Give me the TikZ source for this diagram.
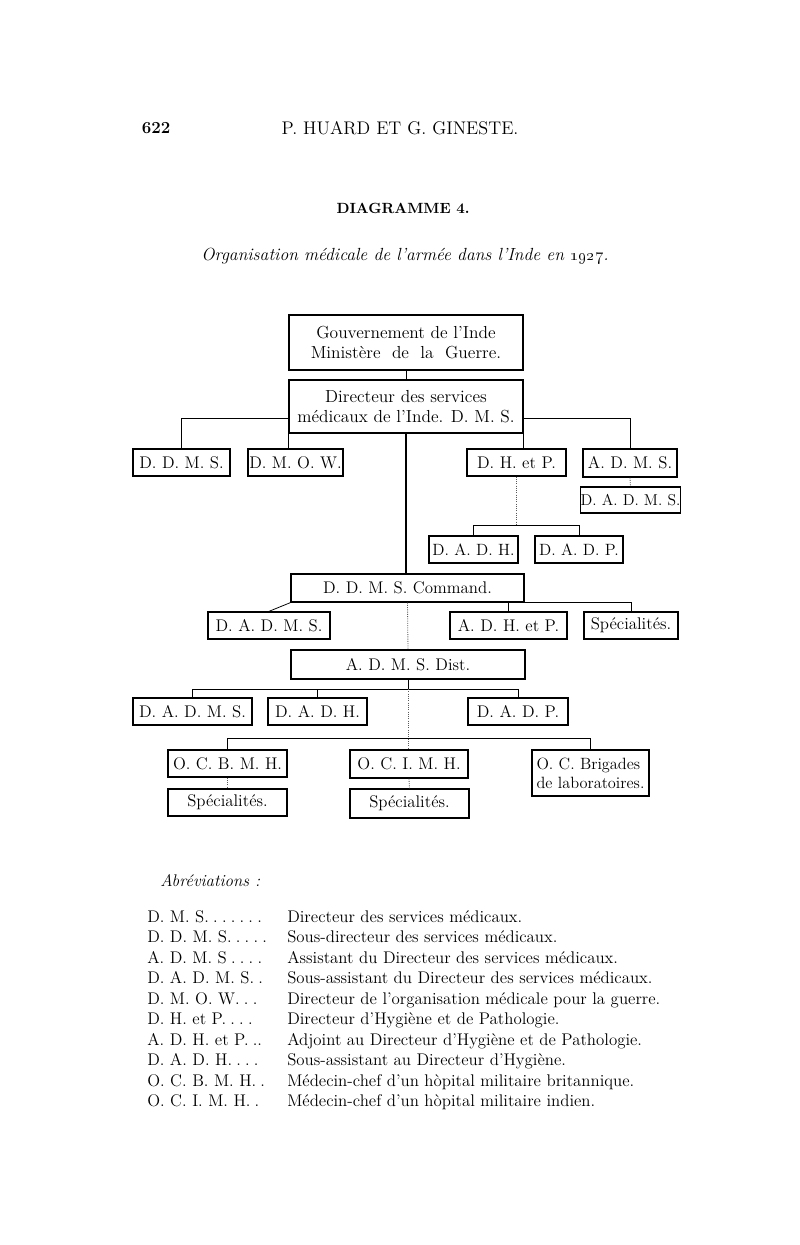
\documentclass[tikz,border=0pt]{standalone}
\usepackage{tikz}
\usetikzlibrary{calc}
\tikzset{
  orgbox/.style={draw=black, fill=white, line width=0.95pt, inner sep=0pt,
                 align=center, font=\fontsize{12}{14}\selectfont},
  link/.style={draw=black, line width=0.55pt},
  mainlink/.style={draw=black, line width=1.0pt},
  faintlink/.style={draw=black!65, densely dotted, line width=0.6pt},
  headline/.style={font=\fontsize{13}{15}\selectfont, inner sep=0pt},
  abbrevkey/.style={anchor=base west, inner sep=0pt,
                    font=\fontsize{12}{14}\selectfont},
  abbrevtext/.style={anchor=base west, inner sep=0pt,
                     font=\fontsize{12}{14}\selectfont}
}
\newcommand{\dotgap}{\hspace{0.25em}}
\begin{document}
\begin{tikzpicture}[x=0.025cm,y=-0.025cm]
  \path[use as bounding box, fill=white] (0,0) rectangle (800,1245);

  % Page head, title and subtitle.
  \node[headline,font=\bfseries\fontsize{12}{14}\selectfont] (page) at (156,128) {622};
  \node[headline] (authors) at (400,128) {P. HUARD ET G. GINESTE.};
  \node[headline,font=\bfseries\fontsize{10.5}{13}\selectfont] (diagtitle) at (403,208) {DIAGRAMME 4.};
  \node[headline,font=\itshape\fontsize{12.5}{14}\selectfont] (diagsub) at (405,256)
    {Organisation médicale de l'armée dans l'Inde en \oldstylenums{1927}.};

  % -------------------------------------------------------------------------
  % Top of the chain: government and D. M. S.
  \node[orgbox, font=\fontsize{12.4}{14}\selectfont, minimum width=58.5mm, minimum height=13.75mm]
    (gouv) at (406,342.5) {Gouvernement de l'Inde\\Ministère \ de \ la \ Guerre.};
  \node[orgbox, font=\fontsize{12.4}{14}\selectfont, minimum width=58.5mm, minimum height=13.25mm]
    (dms) at (406,406.5) {Directeur des services\\médicaux de l'Inde. D. M. S.};

  \node[orgbox, minimum width=24.25mm, minimum height=6.75mm] (ddms) at (181.5,462.5) {D. D. M. S.};
  \node[orgbox, minimum width=23.75mm, minimum height=6.75mm] (dmow) at (295.5,462.5) {D. M. O. W.};
  \node[orgbox, minimum width=24.75mm, minimum height=6.75mm] (dhp) at (516.5,462.5) {D. H. et P.};
  \node[orgbox, minimum width=23.5mm, minimum height=7mm] (adms) at (630,463) {A. D. M. S.};
  \node[orgbox, font=\fontsize{11.2}{13}\selectfont, minimum width=24.25mm, minimum height=6.5mm]
    (dadmsa) at (630.5,500) {D. A. D. M. S.};
  \node[orgbox, font=\fontsize{11.6}{13}\selectfont, minimum width=22.25mm, minimum height=6.75mm]
    (dadha) at (473.5,549.5) {D. A. D. H.};
  \node[orgbox, font=\fontsize{11.6}{13}\selectfont, minimum width=22mm, minimum height=6.75mm]
    (dadpa) at (579,549.5) {D. A. D. P.};

  \draw[link] (gouv.south) -- (dms.north);
  \draw[link] ([yshift=-2.875mm]dms.west) -| (ddms.north);
  \draw[link] (dms.south west) -- (dms.south west |- dmow.north);
  \draw[link] (dms.south east) -- (dms.south east |- dhp.north);
  \draw[link] ([yshift=-2.875mm]dms.east) -| (adms.north);
  \draw[faintlink] (adms.south) -- (dadmsa.north);
  \coordinate (hpjoin) at (516.5,525);
  \draw[faintlink] (dhp.south) -- (hpjoin);
  \draw[link] (dadha.north) |- (hpjoin) -| (dadpa.north);

  % -------------------------------------------------------------------------
  % Command level.
  \node[orgbox, minimum width=58.25mm, minimum height=7mm] (ddmsc) at (407.5,588) {D. D. M. S. Command.};
  \node[orgbox, minimum width=30.5mm, minimum height=6.75mm] (dadmsb) at (269,625.5) {D. A. D. M. S.};
  \node[orgbox, minimum width=29.25mm, minimum height=6.75mm] (adhp) at (508.5,625.5) {A. D. H. et P.};
  \node[orgbox, minimum width=23.5mm, minimum height=6.75mm] (speca) at (631,625.5) {Spécialités.};

  \draw[mainlink] (dms.south) -- (dms.south |- ddmsc.north);
  \draw[link] (ddmsc.south west) -- (dadmsb.north);
  \draw[link] (adhp.north) -- (adhp.north |- ddmsc.south);
  \draw[link] (ddmsc.south east) -| (speca.north);

  % -------------------------------------------------------------------------
  % District level and hospitals.
  \node[orgbox, minimum width=58.5mm, minimum height=7.25mm] (admsd) at (408,664.5) {A. D. M. S. Dist.};
  \node[orgbox, minimum width=29.75mm, minimum height=6.75mm] (dadmsc) at (192.5,711.5) {D. A. D. M. S.};
  \node[orgbox, minimum width=24.75mm, minimum height=6.75mm] (dadhc) at (317.5,711.5) {D. A. D. H.};
  \node[orgbox, minimum width=25mm, minimum height=6.75mm] (dadpc) at (518,711.5) {D. A. D. P.};

  \node[orgbox, minimum width=29.75mm, minimum height=6.75mm] (ocbmh) at (227.5,763.5) {O. C. B. M. H.};
  \node[orgbox, minimum width=29.5mm, minimum height=7mm] (ocimh) at (409,764) {O. C. I. M. H.};
  \node[orgbox, align=left, font=\fontsize{11.6}{13.5}\selectfont, minimum width=29.25mm,
        minimum height=11.5mm] (ocbrig) at (590.5,773) {O. C. Brigades\\de laboratoires.};
  \node[orgbox, minimum width=29.75mm, minimum height=6.75mm] (specb) at (227.5,802.5) {Spécialités.};
  \node[orgbox, minimum width=29.75mm, minimum height=7.25mm] (specc) at (409.5,803.5) {Spécialités.};

  \draw[faintlink] (ddmsc.south) -- (admsd.north);
  \coordinate (distjoin) at (408,689);
  \draw[link] (admsd.south) -- (distjoin);
  \draw[link] (dadmsc.north) |- (distjoin) -| (dadpc.north);
  \draw[link] (dadhc.north) -- (dadhc.north |- distjoin);
  \draw[faintlink] (distjoin) -- (distjoin |- ocimh.north);
  \coordinate (ocjoin) at (409,738);
  \draw[link] (ocbmh.north) |- (ocjoin) -| (ocbrig.north);
  \draw[faintlink] (ocbmh.south) -- (specb.north);
  \draw[faintlink] (ocimh.south) -- (specc.north);

  % -------------------------------------------------------------------------
  % Abbreviations.
  \node[abbrevkey,font=\itshape\fontsize{12}{14}\selectfont] (abtitle) at (160,886) {Abréviations :};

  \node[abbrevkey] (ka) at (147,922) {D. M. S.\dotgap.\dotgap.\dotgap.\dotgap.\dotgap.\dotgap.};
  \node[abbrevkey] (kb) at (147,942.5) {D. D. M. S.\dotgap.\dotgap.\dotgap.\dotgap.};
  \node[abbrevkey] (kc) at (147,963) {A. D. M. S\dotgap.\dotgap.\dotgap.\dotgap.};
  \node[abbrevkey] (kd) at (147,983.5) {D. A. D. M. S.\dotgap.};
  \node[abbrevkey] (ke) at (147,1004) {D. M. O. W.\dotgap.\dotgap.};
  \node[abbrevkey] (kf) at (147,1024.5) {D. H. et P.\dotgap.\dotgap.\dotgap.};
  \node[abbrevkey] (kg) at (147,1045) {A. D. H. et P.\dotgap..};
  \node[abbrevkey] (kh) at (147,1065.5) {D. A. D. H.\dotgap.\dotgap.\dotgap.};
  \node[abbrevkey] (ki) at (147,1086) {O. C. B. M. H.\dotgap.};
  \node[abbrevkey] (kj) at (147,1106.5) {O. C. I. M. H.\dotgap.};

  \node[abbrevtext] (ta) at (287,922) {Directeur des services médicaux.};
  \node[abbrevtext] (tb) at (287,942.5) {Sous-directeur des services médicaux.};
  \node[abbrevtext] (tc) at (287,963) {Assistant du Directeur des services médicaux.};
  \node[abbrevtext] (td) at (287,983.5) {Sous-assistant du Directeur des services médicaux.};
  \node[abbrevtext] (te) at (287,1004) {Directeur de l'organisation médicale pour la guerre.};
  \node[abbrevtext] (tf) at (287,1024.5) {Directeur d'Hygiène et de Pathologie.};
  \node[abbrevtext] (tg) at (287,1045) {Adjoint au Directeur d'Hygiène et de Pathologie.};
  \node[abbrevtext] (th) at (287,1065.5) {Sous-assistant au Directeur d'Hygiène.};
  \node[abbrevtext] (ti) at (287,1086) {Médecin-chef d'un hòpital militaire britannique.};
  \node[abbrevtext] (tj) at (287,1106.5) {Médecin-chef d'un hòpital militaire indien.};
\end{tikzpicture}
\end{document}
